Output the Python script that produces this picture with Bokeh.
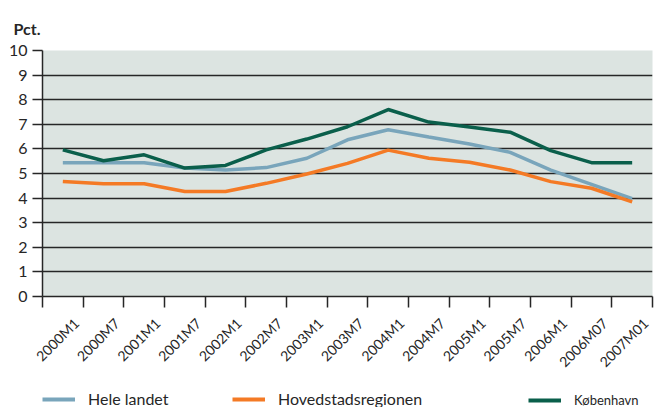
from bokeh.plotting import figure
from bokeh.models import FixedTicker, Legend, LegendItem, Range1d
from bokeh.layouts import column
from bokeh.embed import file_html
from bokeh.resources import INLINE

periods = ["2000M1", "2000M7", "2001M1", "2001M7", "2002M1", "2002M7", "2003M1",
           "2003M7", "2004M1", "2004M7", "2005M1", "2005M7", "2006M1", "2006M07", "2007M01"]
hele_landet = [5.44, 5.44, 5.44, 5.22, 5.14, 5.24, 5.62, 6.37, 6.78, 6.48, 6.2, 5.86, 5.14, 4.56, 3.98]
hovedstadsregionen = [4.67, 4.58, 4.58, 4.27, 4.27, 4.6, 4.98, 5.41, 5.95, 5.62, 5.46, 5.14, 4.67, 4.4, 3.85]
koebenhavn = [5.96, 5.52, 5.76, 5.22, 5.33, 5.96, 6.4, 6.9, 7.6, 7.09, 6.89, 6.68, 5.93, 5.44, 5.44]
series_names = ["Hele landet", "Hovedstadsregionen", "København"]
y_ticks = list(range(0, 11))

FONT = "Lato"
GREEN = "#0a5f4b"
BLUE = "#79a5bb"
ORANGE = "#f47a25"
BG = "#dce4e1"
DARK = "#262626"

x = list(range(len(periods)))
series = [hele_landet, hovedstadsregionen, koebenhavn]
colors = [BLUE, ORANGE, GREEN]

p = figure(width=654, height=385, output_backend="svg", toolbar_location=None,
           x_range=Range1d(-0.5, len(periods) - 0.5), y_range=Range1d(0, 10),
           min_border_left=42, min_border_right=2, min_border_top=50,
           min_border_bottom=89)
p.background_fill_color = BG
p.border_fill_color = "white"
p.outline_line_color = None

p.title.text = "Pct."
p.title.align = "left"
p.title.offset = -29
p.title.standoff = 26
p.title.text_font = FONT
p.title.text_font_style = "bold"
p.title.text_font_size = "16px"
p.title.text_color = DARK

# grid
p.xgrid.visible = False
p.ygrid.ticker = FixedTicker(ticks=y_ticks)
p.ygrid.grid_line_color = DARK
p.ygrid.grid_line_width = 1.5

# y axis
p.yaxis.ticker = FixedTicker(ticks=y_ticks)
p.yaxis.axis_line_color = DARK
p.yaxis.axis_line_width = 1.5
p.yaxis.major_tick_line_color = DARK
p.yaxis.major_tick_line_width = 1.5
p.yaxis.major_tick_out = 10
p.yaxis.major_tick_in = 0
p.yaxis.minor_tick_line_color = None
p.yaxis.major_label_standoff = 5
p.yaxis.major_label_text_font = FONT
p.yaxis.major_label_text_font_size = "16px"
p.yaxis.major_label_text_color = DARK

# x axis: labels offset within category like the reference, boundary marks as minor ticks
label_ticks = [i + 0.33 for i in x]
boundaries = [i - 0.5 for i in range(len(periods) + 1)]
p.xaxis.ticker = FixedTicker(ticks=label_ticks, minor_ticks=boundaries)
p.xaxis.major_label_overrides = {t: lab for t, lab in zip(label_ticks, periods)}
p.xaxis.major_label_orientation = 0.785398
p.xaxis.axis_line_color = DARK
p.xaxis.axis_line_width = 1.5
p.xaxis.major_tick_line_color = None
p.xaxis.major_tick_out = 0
p.xaxis.major_tick_in = 0
p.xaxis.minor_tick_line_color = DARK
p.xaxis.minor_tick_line_width = 1.5
p.xaxis.minor_tick_out = 11
p.xaxis.minor_tick_in = 0
p.xaxis.major_label_standoff = 13
p.xaxis.major_label_text_font = FONT
p.xaxis.major_label_text_font_size = "14px"
p.xaxis.major_label_text_color = DARK

for vals, col in zip(series, colors):
    p.line(x, vals, line_color=col, line_width=3.5)

# legend strip below the chart (its frame is aligned with the chart's frame)
lf = figure(width=654, height=22, output_backend="svg", toolbar_location=None,
            x_range=Range1d(-0.5, len(periods) - 0.5), y_range=Range1d(-20, -19),
            min_border_left=0, min_border_right=0, min_border_top=0,
            min_border_bottom=0)
lf.axis.visible = False
lf.grid.visible = False
lf.outline_line_color = None
lf.background_fill_color = "white"
lf.border_fill_color = "white"

legend_x = [0, 190, 486]
legend_font = ["16px", "16px", "13px"]
legend_y = [-1, -1, -1]
for name, vals, col, lx, fs, ly in zip(series_names, series, colors, legend_x, legend_font, legend_y):
    r = lf.line(x, vals, line_color=col, line_width=4)  # outside the strip's y range
    lg = Legend(items=[LegendItem(label=name, renderers=[r])], location=(lx, ly),
                orientation="horizontal", border_line_color=None,
                background_fill_alpha=0, padding=0, margin=0, glyph_width=33,
                glyph_height=14, label_standoff=13, label_text_font=FONT,
                label_text_font_size=fs, label_text_color=DARK)
    lf.add_layout(lg, "center")

layout = column(p, lf, spacing=0)
open("out.html", "w").write(file_html(layout, INLINE))
